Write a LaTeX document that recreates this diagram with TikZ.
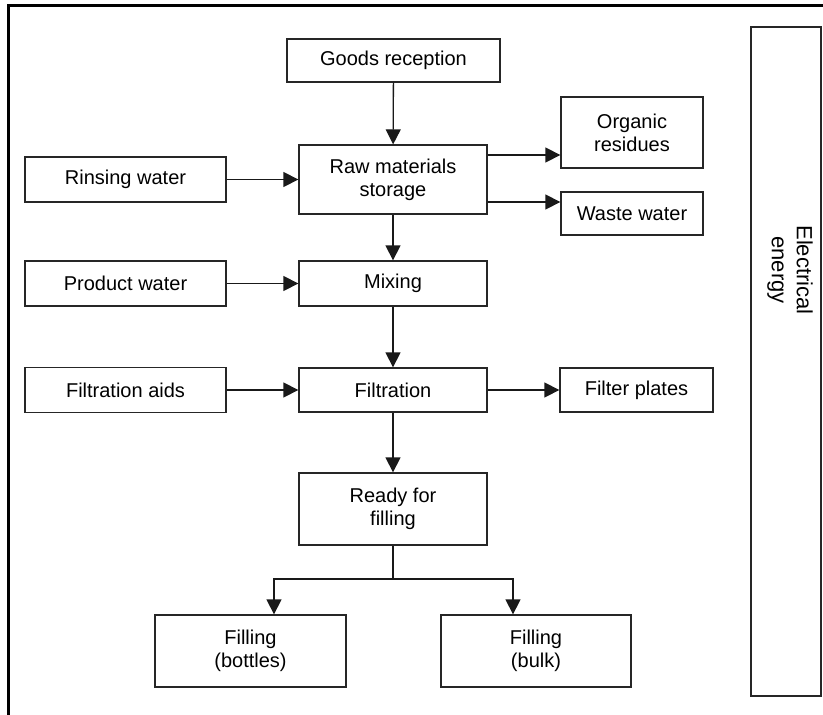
\documentclass[tikz,border=0pt]{standalone}
\usepackage{fontspec}
\setmainfont{Liberation Sans}
\usetikzlibrary{arrows.meta}

\begin{document}
\begin{tikzpicture}[x=1pt,y=-1pt,line join=miter,
  box/.style={draw=black!85,line width=1.3pt,inner sep=0pt,align=center,
    font=\fontsize{20}{23}\selectfont},
  flow/.style={draw=black!90,line width=1.3pt,-{Triangle[length=15pt,width=15pt]}}]
\useasboundingbox (0,0) rectangle (823,715);
\fill[white] (0,0) rectangle (823,715);
\draw[line width=3pt] (8,715) -- (8,5) -- (823,5);
\node[box,minimum width=213pt,minimum height=43pt] (goods) at (393.5,60.5) {Goods reception};
\node[box,minimum width=188pt,minimum height=69pt] (raw) at (393,179.5) {Raw materials\\storage};
\node[box,minimum width=201pt,minimum height=45pt] (rinse) at (125.5,179.5) {Rinsing water};
\node[box,minimum width=142pt,minimum height=71pt] (organic) at (632,132.5) {Organic\\residues};
\node[box,minimum width=142pt,minimum height=43pt] (waste) at (632,213.5) {Waste water};
\node[box,minimum width=201pt,minimum height=45pt] (prod) at (125.5,283.5) {Product water};
\node[box,minimum width=188pt,minimum height=45pt] (mix) at (393,283.5) {Mixing};
\node[box,minimum width=201pt,minimum height=45pt] (aids) at (125.5,390) {Filtration aids};
\node[box,minimum width=188pt,minimum height=44pt] (filt) at (393,390) {Filtration};
\node[box,minimum width=153pt,minimum height=44pt] (plates) at (636.5,390) {Filter plates};
\node[box,minimum width=188pt,minimum height=72pt] (ready) at (393,509) {Ready for\\filling};
\node[box,minimum width=191pt,minimum height=72pt] (bottles) at (250.5,651) {Filling\\(bottles)};
\node[box,minimum width=190pt,minimum height=72pt] (bulk) at (536,651) {Filling\\(bulk)};
\node[box,minimum width=70pt,minimum height=669pt] (elec) at (786,361.5) {};
\node[rotate=-90,align=center,inner sep=0pt,font=\fontsize{22}{25}\selectfont] (eleclabel) at (790,270) {Electrical\\energy};
\coordinate (split) at (393,579);
\draw[flow] (goods) -- (raw);
\draw[flow] (rinse.east) -- (raw.west);
\draw[flow] ([yshift=24.5pt]raw.east) -- ([yshift=24.5pt]raw.east -| organic.west);
\draw[flow] ([yshift=-22.5pt]raw.east) -- ([yshift=-22.5pt]raw.east -| waste.west);
\draw[flow] (raw) -- (mix);
\draw[flow] (prod.east) -- (mix.west);
\draw[flow] (mix) -- (filt);
\draw[flow] (aids.east) -- (filt.west);
\draw[flow] (filt.east) -- (plates.west);
\draw[flow] (filt) -- (ready);
\draw[draw=black!90,line width=1.3pt] (ready.south) -- (split);
\draw[flow] (split) -| ([xshift=23.5pt]bottles.north);
\draw[flow] (split) -| ([xshift=-23pt]bulk.north);
\end{tikzpicture}
\end{document}
